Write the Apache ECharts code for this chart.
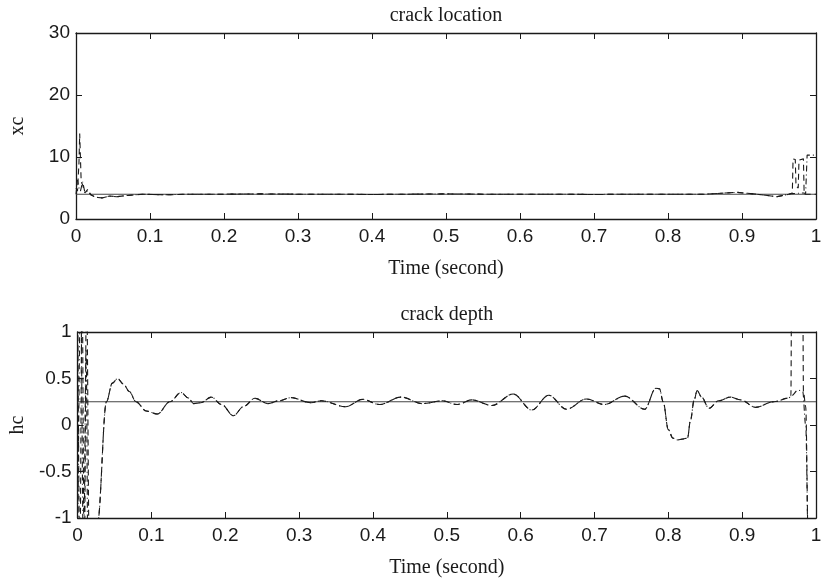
<!DOCTYPE html>
<html>
<head>
<meta charset="utf-8">
<script src="https://cdn.jsdelivr.net/npm/echarts@6/dist/echarts.min.js"></script>
<style>
  html, body { margin: 0; padding: 0; background: #fff; }
  #chart { width: 826px; height: 579px; }
</style>
</head>
<body>
<div id="chart"></div>
<script>
// true values
var xcTrue = 4;
var hcTrue = 0.25;

// crack location estimate - shared middle part
var locT = [0.027, 0.035, 0.045, 0.055, 0.07, 0.09, 0.12, 0.15, 0.2, 0.25, 0.3, 0.35, 0.4, 0.45, 0.5, 0.55, 0.6, 0.65, 0.7, 0.75, 0.8, 0.85, 0.893, 0.92, 0.947, 0.96];
var locV = [3.5, 3.4, 3.7, 3.6, 3.8, 4.0, 3.9, 4.0, 4.0, 4.05, 4.0, 4.0, 3.95, 4.0, 4.05, 4.0, 4.0, 4.0, 3.95, 4.0, 4.0, 4.0, 4.3, 4.0, 3.6, 3.9];
// start / end of the two estimates
var locDashHeadT = [0, 0.002, 0.004, 0.005, 0.007, 0.009, 0.012, 0.016, 0.02];
var locDashHeadV = [5, 4.5, 9, 13.8, 6, 5.5, 4.2, 4.8, 3.9];
var locDotHeadT = [0, 0.002, 0.004, 0.006, 0.009, 0.012, 0.016, 0.02];
var locDotHeadV = [4, 6.3, 5, 4.5, 6, 4.3, 4.5, 3.9];
var locDashTailT = [0.968, 0.969, 0.972, 0.973, 0.976, 0.977, 0.983, 0.984, 1.0];
var locDashTailV = [4.2, 9.7, 9.6, 5.3, 5.0, 9.5, 9.7, 4.0, 4.0];
var locDotTailT = [0.968, 0.983, 0.986, 0.988, 1.0];
var locDotTailV = [4.1, 4.2, 4.1, 10.3, 10.3];

// crack depth estimate - shared middle part
var depT = [0.027, 0.039, 0.047, 0.054, 0.062, 0.07, 0.079, 0.093, 0.108, 0.125, 0.14, 0.15, 0.157, 0.167, 0.181, 0.195, 0.211, 0.225, 0.24, 0.258, 0.272, 0.289, 0.316, 0.33, 0.363, 0.386, 0.409, 0.438, 0.467, 0.494, 0.514, 0.534, 0.561, 0.59, 0.615, 0.638, 0.662, 0.689, 0.713, 0.741, 0.768, 0.783, 0.788, 0.793, 0.8, 0.806, 0.812, 0.82, 0.826, 0.83, 0.835, 0.839, 0.845, 0.855, 0.868, 0.884, 0.898, 0.918, 0.943, 0.963];
var depV = [-1.05, 0.25, 0.45, 0.5, 0.44, 0.36, 0.25, 0.15, 0.118, 0.25, 0.35, 0.29, 0.23, 0.24, 0.3, 0.22, 0.1, 0.2, 0.287, 0.23, 0.26, 0.294, 0.24, 0.26, 0.197, 0.276, 0.22, 0.3, 0.23, 0.26, 0.22, 0.27, 0.21, 0.333, 0.161, 0.32, 0.17, 0.28, 0.22, 0.31, 0.17, 0.395, 0.39, 0.25, -0.05, -0.14, -0.16, -0.15, -0.14, 0.05, 0.27, 0.37, 0.3, 0.18, 0.26, 0.3, 0.27, 0.19, 0.25, 0.29];
var depDashHeadT = [0, 0.003, 0.006, 0.009, 0.012, 0.016, 0.02];
var depDashHeadV = [1.5, -1.5, 1.5, -1.5, 1.5, -1.5, -1.5];
var depDotHeadT = [0, 0.004, 0.008, 0.0115, 0.014, 0.02];
var depDotHeadV = [-1.5, 1.5, -1.5, 0.8, -1.5, -1.5];
var depDashTailT = [0.966, 0.967, 0.982, 0.983, 0.986, 0.99, 1.0];
var depDashTailV = [0.31, 1.6, 1.6, 0.36, 0.2, -1.5, -1.5];
var depDotTailT = [0.966, 0.976, 0.982, 0.986, 0.99, 1.0];
var depDotTailV = [0.31, 0.376, 0.36, 0.0, -1.5, -1.5];

var timeTicks = [0, 1, 0.1];      // min, max, interval
var xcTicks = [0, 30, 10];
var hcTicks = [-1, 1, 0.5];

function pairs(ts, vs) {
    return ts.map(function (t, i) { return [t, vs[i]]; });
}

var sansFont = 'Liberation Sans';
var serifFont = 'Liberation Serif';
var ink = '#1a1a1a';

function bottomAxis(gi, name) {
    return {
        type: 'value', gridIndex: gi, position: 'bottom',
        min: timeTicks[0], max: timeTicks[1], interval: timeTicks[2],
        name: name, nameLocation: 'middle', nameGap: 40,
        nameTextStyle: { fontFamily: serifFont, fontSize: 20, color: ink },
        axisLine: { show: true, onZero: false, lineStyle: { color: ink, width: 1.3 } },
        axisTick: { show: true, inside: true, length: 6, lineStyle: { color: ink } },
        axisLabel: { fontFamily: sansFont, fontSize: 19, color: ink, margin: 8 },
        splitLine: { show: false }
    };
}
function topAxis(gi, title) {
    return {
        type: 'value', gridIndex: gi, position: 'top',
        min: timeTicks[0], max: timeTicks[1], interval: timeTicks[2],
        name: title, nameLocation: 'middle', nameGap: 7,
        nameTextStyle: { fontFamily: serifFont, fontSize: 20, color: ink },
        axisLine: { show: true, onZero: false, lineStyle: { color: ink, width: 1.3 } },
        axisTick: { show: true, inside: true, length: 6, lineStyle: { color: ink } },
        axisLabel: { show: false },
        splitLine: { show: false }
    };
}
function leftAxis(gi, ticks, name) {
    return {
        type: 'value', gridIndex: gi, position: 'left',
        min: ticks[0], max: ticks[1], interval: ticks[2],
        name: name, nameLocation: 'middle', nameGap: 48, nameRotate: 90,
        nameTextStyle: { fontFamily: serifFont, fontSize: 20, color: ink },
        axisLine: { show: true, onZero: false, lineStyle: { color: ink, width: 1.3 } },
        axisTick: { show: true, inside: true, length: 6, lineStyle: { color: ink } },
        axisLabel: { fontFamily: sansFont, fontSize: 19, color: ink, margin: 6 },
        splitLine: { show: false }
    };
}
function rightAxis(gi, ticks) {
    return {
        type: 'value', gridIndex: gi, position: 'right',
        min: ticks[0], max: ticks[1], interval: ticks[2],
        axisLine: { show: true, onZero: false, lineStyle: { color: ink, width: 1.3 } },
        axisTick: { show: true, inside: true, length: 6, lineStyle: { color: ink } },
        axisLabel: { show: false },
        splitLine: { show: false }
    };
}

function lineSeries(xi, yi, data, dash, smooth, color) {
    return {
        type: 'line', xAxisIndex: xi, yAxisIndex: yi,
        data: data, symbol: 'none', smooth: smooth, smoothMonotone: 'x',
        clip: true, silent: true,
        lineStyle: { color: color || ink, width: 1.1, type: dash }
    };
}

var locDash = pairs(locDashHeadT, locDashHeadV).concat(pairs(locT, locV), pairs(locDashTailT, locDashTailV));
var locDot = pairs(locDotHeadT, locDotHeadV).concat(pairs(locT, locV), pairs(locDotTailT, locDotTailV));
var depDash = pairs(depDashHeadT, depDashHeadV).concat(pairs(depT, depV), pairs(depDashTailT, depDashTailV));
var depDot = pairs(depDotHeadT, depDotHeadV).concat(pairs(depT, depV), pairs(depDotTailT, depDotTailV));

var chart = echarts.init(document.getElementById('chart'), null, { renderer: 'canvas' });
chart.setOption({
    animation: false,
    backgroundColor: '#fff',
    grid: [
        { left: 73, top: 33, width: 743, height: 186 },
        { left: 73, top: 332, width: 743, height: 186 }
    ],
    xAxis: [
        bottomAxis(0, 'Time (second)'),
        topAxis(0, 'crack location'),
        bottomAxis(1, 'Time (second)'),
        topAxis(1, 'crack depth')
    ],
    yAxis: [
        leftAxis(0, xcTicks, 'xc'),
        rightAxis(0, xcTicks),
        leftAxis(1, hcTicks, 'hc'),
        rightAxis(1, hcTicks)
    ],
    series: [
        lineSeries(0, 0, [[timeTicks[0], xcTrue], [timeTicks[1], xcTrue]], 'solid', false, '#444'),
        lineSeries(0, 0, locDash, [6, 4], false),
        lineSeries(0, 0, locDot, [6, 3, 1, 3], false),
        lineSeries(2, 2, [[timeTicks[0], hcTrue], [timeTicks[1], hcTrue]], 'solid', false, '#444'),
        lineSeries(2, 2, depDash, [6, 4], 0.35),
        lineSeries(2, 2, depDot, [6, 3, 1, 3], 0.35)
    ]
});
</script>
</body>
</html>
